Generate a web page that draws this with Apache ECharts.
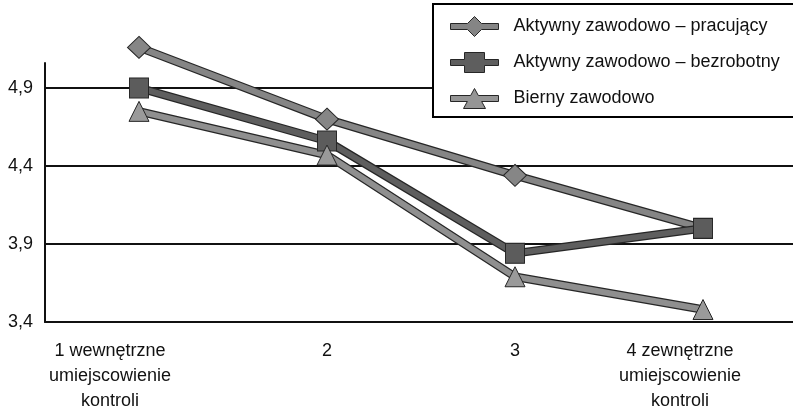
<!DOCTYPE html>
<html>
<head>
<meta charset="utf-8">
<script src="https://cdn.jsdelivr.net/npm/echarts@6/dist/echarts.min.js"></script>
<style>
  html, body { margin: 0; padding: 0; background: #fff; }
  #chart { width: 793px; height: 414px; }
</style>
</head>
<body>
<div id="chart"></div>
<script>
// Locus of control (1 = internal ... 4 = external) by labour-market status
const categories = [
  '1 wewnętrzne\numiejscowienie\nkontroli',
  '2',
  '3',
  '4 zewnętrzne\numiejscowienie\nkontroli'
];
const seriesNames = [
  'Aktywny zawodowo – pracujący',
  'Aktywny zawodowo – bezrobotny',
  'Bierny zawodowo'
];
const pracujacy = [5.16, 4.70, 4.34, 4.00];
const bezrobotny = [4.90, 4.56, 3.84, 4.00];
const bierny = [4.75, 4.47, 3.69, 3.48];

const yMin = 3.4;
const yStep = 0.5;
const yMax = 5.06;

const FONT = "'Liberation Sans', Arial, sans-serif";
const FONT_SIZE = 18;
const OUTLINE = '#262626';

// Legend glyphs: a bar with the marker merged into one outline
const ICON_DIAMOND = 'path://M0,7L17,7L24,0L31,7L48,7L48,13L31,13L24,20L17,13L0,13Z';
const ICON_SQUARE = 'path://M0,7L14,7L14,0L34,0L34,7L48,7L48,13L34,13L34,20L14,20L14,13L0,13Z';
const ICON_TRIANGLE = 'path://M0,7L20.15,7L24,0L27.85,7L48,7L48,13L31.15,13L35,20L13,20L16.85,13L0,13Z';

function lineWithOutline(name, data, lineColor, symbol, symbolSize, markerColor) {
  return [
    {
      name: name + ' (kontur)',
      type: 'line',
      data: data,
      symbol: 'none',
      clip: false,
      silent: true,
      lineStyle: { width: 8.5, color: OUTLINE },
      emphasis: { disabled: true }
    },
    {
      name: name,
      type: 'line',
      data: data,
      clip: false,
      symbol: symbol,
      symbolSize: symbolSize,
      lineStyle: { width: 6, color: lineColor },
      itemStyle: { color: markerColor, borderColor: OUTLINE, borderWidth: 1 },
      emphasis: { disabled: true }
    }
  ];
}

// Where the "pracujący" point coincides with the "bezrobotny" square, the square alone is shown
function diamondUnlessShared(value, params) {
  return bezrobotny[params.dataIndex] === value ? 'none' : 'diamond';
}

const chart = echarts.init(document.getElementById('chart'), null, { renderer: 'canvas' });

chart.setOption({
  animation: false,
  backgroundColor: '#fff',
  textStyle: { fontFamily: FONT },
  grid: { left: 45, top: 63, width: 752, height: 259, containLabel: false, outerBoundsMode: 'none' },
  // Legend frame, running off the right edge of the canvas
  graphic: [{
    type: 'rect',
    z: 3,
    shape: { x: 433, y: 4, width: 420, height: 113 },
    style: { fill: '#fff', stroke: '#000', lineWidth: 2 },
    silent: true
  }],
  legend: {
    orient: 'vertical',
    left: 433,
    top: 4,
    z: 4,
    padding: [12, 40, 9, 17],
    itemWidth: 48,
    itemHeight: 20,
    itemGap: 15,
    backgroundColor: 'transparent',
    borderWidth: 0,
    textStyle: { fontFamily: FONT, fontSize: FONT_SIZE, color: '#111', padding: [0, 0, 0, 10] },
    data: [
      { name: seriesNames[0], icon: ICON_DIAMOND, itemStyle: { color: '#858585', borderColor: OUTLINE, borderWidth: 1 } },
      { name: seriesNames[1], icon: ICON_SQUARE, itemStyle: { color: '#5e5e5e', borderColor: OUTLINE, borderWidth: 1 } },
      { name: seriesNames[2], icon: ICON_TRIANGLE, itemStyle: { color: '#959595', borderColor: OUTLINE, borderWidth: 1 } }
    ]
  },
  xAxis: {
    type: 'category',
    data: categories,
    boundaryGap: true,
    axisLine: { lineStyle: { color: '#111', width: 2 } },
    axisTick: { show: false },
    axisLabel: {
      interval: 0,
      margin: 17,
      color: '#111',
      fontFamily: FONT,
      fontSize: FONT_SIZE,
      lineHeight: 25,
      formatter: function (value, index) {
        if (index === 0) return '{first|' + value + '}';
        if (index === categories.length - 1) return '{last|' + value + '}';
        return value;
      },
      rich: {
        first: { fontFamily: FONT, fontSize: FONT_SIZE, lineHeight: 25, color: '#111', padding: [0, 58, 0, 0] },
        last: { fontFamily: FONT, fontSize: FONT_SIZE, lineHeight: 25, color: '#111', padding: [0, 46, 0, 0] }
      }
    }
  },
  yAxis: {
    type: 'value',
    min: yMin,
    max: yMax,
    interval: yStep,
    axisLine: { show: true, lineStyle: { color: '#111', width: 2 } },
    axisTick: { show: false },
    splitLine: { show: true, showMaxLine: false, lineStyle: { color: '#111', width: 2 } },
    axisLabel: {
      margin: 12,
      color: '#111',
      fontFamily: FONT,
      fontSize: FONT_SIZE,
      showMaxLabel: false,
      formatter: function (v) { return v.toFixed(1).replace('.', ','); }
    }
  },
  series: [].concat(
    lineWithOutline(seriesNames[0], pracujacy, '#858585', diamondUnlessShared, [23, 22], '#868686'),
    lineWithOutline(seriesNames[1], bezrobotny, '#5e5e5e', 'rect', [19, 20], '#5c5c5c'),
    lineWithOutline(seriesNames[2], bierny, '#8f8f8f', 'triangle', [20, 20], '#9a9a9a')
  )
});
</script>
</body>
</html>
